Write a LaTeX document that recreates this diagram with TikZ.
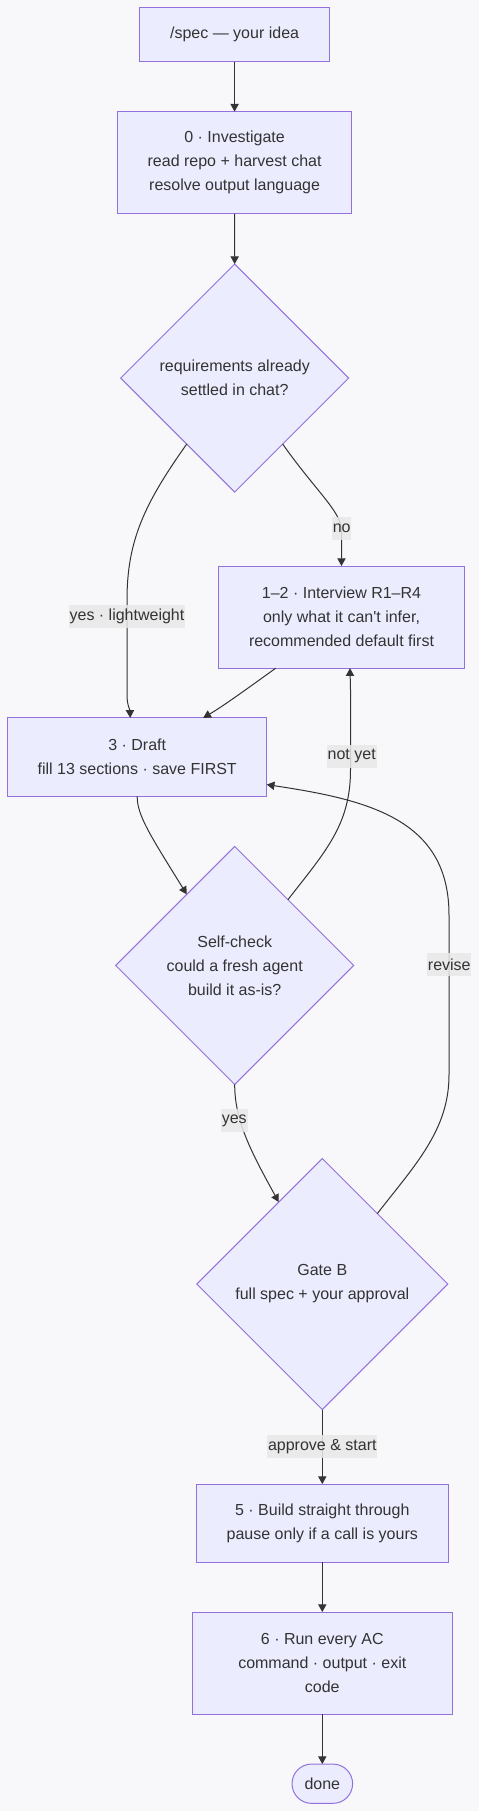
\documentclass[tikz,border=0pt]{standalone}
\usepackage{fontspec}
\setmainfont{Liberation Sans}[Ligatures=TeXOff]
\usetikzlibrary{shapes.geometric,arrows.meta,calc}
\definecolor{bgc}{HTML}{F8F8FA}
\definecolor{nfill}{HTML}{ECECFF}
\definecolor{nstroke}{HTML}{9370DB}
\definecolor{txt}{HTML}{333333}
\definecolor{lblbg}{HTML}{E8E8E8}
\begin{document}
\begin{tikzpicture}[x=0.75pt,y=-0.75pt,
  font=\fontsize{12}{18}\selectfont, text=txt,
  base/.style={draw=nstroke, fill=nfill, line width=0.75pt, inner sep=0pt, outer sep=0pt, align=center},
  box/.style args={#1/#2}{base, rectangle, minimum width={#1*0.75pt}, minimum height={#2*0.75pt}},
  dia/.style={base, diamond, aspect=1, minimum width={#1*0.75pt}, minimum height={#1*0.75pt}},
  term/.style args={#1/#2}{base, rectangle, rounded corners={#2*0.375pt}, minimum width={#1*0.75pt}, minimum height={#2*0.75pt}},
  edge/.style={draw=txt, line width=0.75pt, -{Triangle[length=5.8pt,width=6.2pt]}},
  lbl/.style={fill=lblbg, fill opacity=0.85, text opacity=1, inner xsep=0.6pt, inner ysep=0pt, minimum height={23*0.75pt}, text=txt}
]
\fill[bgc] (0,0) rectangle (479,1811);
\useasboundingbox (0,0) rectangle (479,1811);

% nodes
\node[box=189.3/54.3] (spec) at (234.6,34.8) {/spec — your idea};
\node[box=234.4/102.3] (inv) at (234.6,162.8) {0 · Investigate\\read repo + harvest chat\\resolve output language};
\node[dia=228] (d1) at (234.7,378) {requirements already\\settled in chat?};
\node[box=245.6/102.2] (inter) at (341.5,617.1) {1–2 · Interview R1–R4\\only what it can't infer,\\recommended default first};
\node[box=259/78.5] (draft) at (137.2,757.1) {3 · Draft\\fill 13 sections · save FIRST};
\node[dia=238] (sc) at (234.7,965.4) {Self-check\\could a fresh agent\\build it as-is?};
\node[dia=251] (gb) at (322.3,1284) {Gate B\\full spec + your approval};
\node[box=251.4/78.3] (build) at (322.3,1523.2) {5 · Build straight through\\pause only if a call is yours};
\node[box=260.6/102] (run) at (322.3,1663) {6 · Run every AC\\command · output · exit\\code};
\node[term=60.6/39.3] (done) at (322.3,1783.7) {done};

% label positions
\coordinate (lyes1) at (127,616.8);
\coordinate (lno) at (341.7,528.6);
\coordinate (lnot) at (351.7,756.4);
\coordinate (lyes2) at (234.3,1120.7);
\coordinate (lrev) at (449.3,964.6);
\coordinate (lapp) at (322.3,1446.7);

% edges
\draw[edge] (spec) -- (inv);
\draw[edge] (inv) -- (d1);
\draw[edge] (d1.-126) .. controls (145,503) and (127,540) .. (127,600) -- (127,695) .. controls (127,705) and (130,710) .. ($(draft.north)+(-7,0)$);
\draw[edge] (d1.-54) .. controls (315,490) and (341.5,512) .. (341.5,530) -- (inter.north);
\draw[edge] ($(inter.south)+(-65.8,0)$) .. controls (255,683) and (225,705) .. ($(draft.north)+(66,0)$);
\draw[edge] (draft.south) .. controls (137,815) and (150,835) .. (sc.124);
\draw[edge] (sc.51) .. controls (325,852) and (350.5,825) .. (350.5,770) -- (350.5,690) .. controls (350.5,680) and (350,675) .. ($(inter.south)+(8.5,0)$);
\draw[edge] (sc.south) .. controls (234.7,1120) and (250,1150) .. (gb.118.5);
\draw[edge] (gb.52) .. controls (415,1165) and (449,1130) .. (449,1075) -- (449,915) .. controls (449,820) and (370,800) .. ($(draft.east)+(0,27.5)$);
\draw[edge] (gb.south) -- (build.north);
\draw[edge] (build) -- (run);
\draw[edge] (run) -- (done);

% labels
\node[lbl] (tyes1) at (lyes1) {yes · lightweight};
\node[lbl] (tno) at (lno) {no};
\node[lbl] (tnot) at (lnot) {not yet};
\node[lbl] (tyes2) at (lyes2) {yes};
\node[lbl] (trev) at (lrev) {revise};
\node[lbl] (tapp) at (lapp) {approve \& start};
\end{tikzpicture}
\end{document}
